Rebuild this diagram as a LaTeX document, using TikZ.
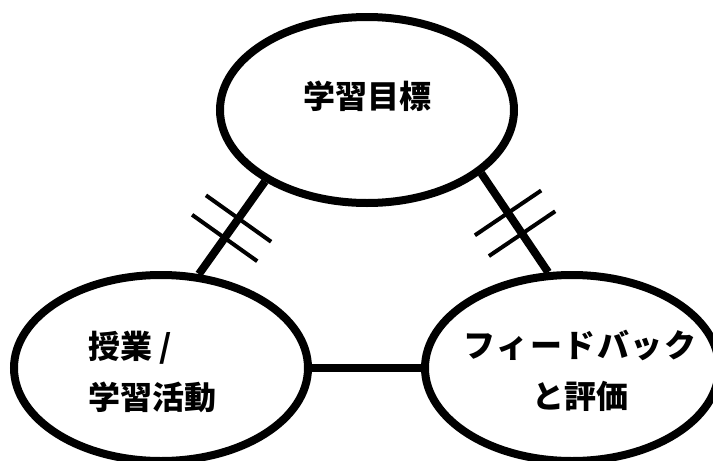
\documentclass[tikz,border=0pt]{standalone}
\usepackage{fontspec}
\newfontfamily\jp{Noto Sans CJK JP}
\newfontfamily\jpwide{Noto Sans CJK JP}[LetterSpace=5]
\usetikzlibrary{shapes.geometric,calc}
\tikzset{
  bubble/.style={ellipse,draw=black,line width=8pt,fill=white,minimum width=294pt,minimum height=186pt,inner sep=0pt},
  lbl/.style={font=\jp\bfseries\fontsize{32}{51}\selectfont,inner sep=0pt},
  link/.style={line width=8pt},
  tick/.style={line width=4pt}
}
\begin{document}
\begin{tikzpicture}[x=1pt,y=-1pt]
\useasboundingbox (0,0) rectangle (713,461);
\clip (0,0) rectangle (713,461);
\fill[white] (0,0) rectangle (713,461);
\node[bubble] (goal) at (367,110) {};
\node[bubble] (act) at (161,368) {};
\node[bubble] (fb) at (572,368) {};
\node[lbl] (goaltxt) at (367,96) {学習目標};
\node[lbl,align=left,anchor=west] (acttxt) at (88,372) {授業 /\\学習活動};
\node[lbl,align=center] (fbtxt) at (580,371) {{\jpwide\bfseries フィードバック}\\と評価};
\coordinate (a1) at (act.68);
\coordinate (g1) at (goal.215);
\coordinate (g2) at (goal.331.7);
\coordinate (f1) at (fb.104.5);
\draw[link] (a1) -- (g1);
\draw[link] (g2) -- (f1);
\draw[link] (act.east) -- (fb.west);
\foreach \p in {0.39,0.60}{
  \coordinate (m) at ($(a1)!\p!(g1)$);
  \draw[tick] ($(m)!40pt!90:(g1)$) -- ($(m)!40pt!-90:(g1)$);
  \coordinate (n) at ($(f1)!\p!(g2)$);
  \draw[tick] ($(n)!40pt!90:(g2)$) -- ($(n)!40pt!-90:(g2)$);
}
\end{tikzpicture}
\end{document}
